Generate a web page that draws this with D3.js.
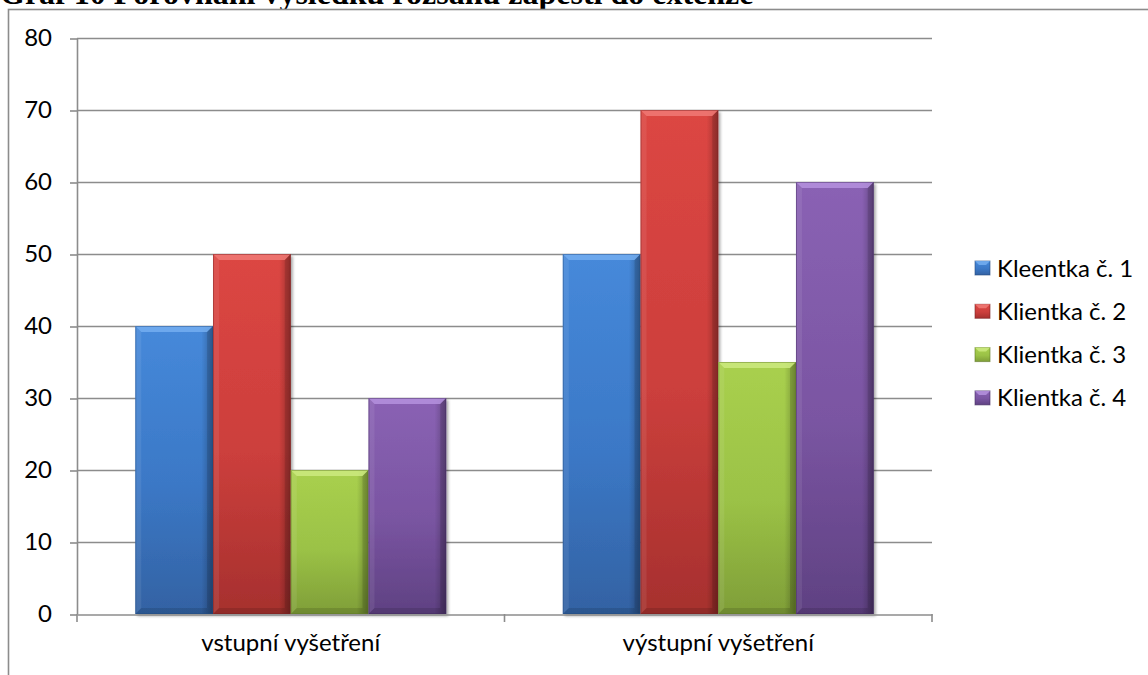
<!DOCTYPE html>
<html>
<head>
<meta charset="utf-8">
<script src="https://cdn.jsdelivr.net/npm/d3@7/dist/d3.min.js"></script>
<style>
  html, body { margin: 0; padding: 0; background: #fff; overflow: hidden; }
  svg { display: block; }
</style>
</head>
<body>
<svg id="chart" width="1148" height="675"></svg>
<script>
// Chart data
const title = "Graf 10 Porovnání výsledků rozsahu zápěstí do extenze";
const categories = ["vstupní vyšetření", "výstupní vyšetření"];
const seriesNames = ["Kleentka č. 1", "Klientka č. 2", "Klientka č. 3", "Klientka č. 4"];
const client1 = [40, 50];
const client2 = [50, 70];
const client3 = [20, 35];
const client4 = [30, 60];
const yTicks = [0, 10, 20, 30, 40, 50, 60, 70, 80];

const seriesValues = [client1, client2, client3, client4];
const palette = [
  { top: "#4689da", mid: "#3b78c6", bot: "#3362a3", light: "#74aef0", edge: "#244b80" },
  { top: "#dc4643", mid: "#cc3f3c", bot: "#a6302e", light: "#f07a76", edge: "#7a2221" },
  { top: "#a9d04e", mid: "#9bc246", bot: "#7f9e38", light: "#cdea80", edge: "#5f7a26" },
  { top: "#8a62b4", mid: "#7a55a2", bot: "#5f4182", light: "#b592de", edge: "#432d60" }
];

const svg = d3.select("#chart");
const font = "Lato, 'Open Sans', sans-serif";
const fontSize = 24;

// Title (runs off the top edge of the page)
svg.append("text")
  .attr("x", 0).attr("y", 4)
  .attr("font-family", "'Liberation Serif', 'Times New Roman', serif")
  .attr("font-weight", "bold")
  .attr("font-size", 32)
  .attr("fill", "#000")
  .text(title);

// Chart frame
svg.append("rect")
  .attr("x", 8.5).attr("y", 9.5)
  .attr("width", 1160).attr("height", 700)
  .attr("fill", "#fff").attr("stroke", "#8c8c8c").attr("stroke-width", 1.6);

const plot = { left: 77, right: 932, top: 38, bottom: 614 };

const x0 = d3.scaleBand().domain(categories).range([plot.left, plot.right]).paddingInner(0).paddingOuter(0);
const groupPad = 0.75 / 5.5; // gap width of 150% between groups
const x1 = d3.scaleBand().domain(seriesNames)
  .range([x0.bandwidth() * groupPad, x0.bandwidth() * (1 - groupPad)]);
const y = d3.scaleLinear().domain([0, 80]).range([plot.bottom, plot.top]);

// Gridlines
svg.append("g").selectAll("line").data(yTicks.filter(d => d > 0)).join("line")
  .attr("x1", plot.left).attr("x2", plot.right)
  .attr("y1", d => y(d) + 0.5).attr("y2", d => y(d) + 0.5)
  .attr("stroke", "#8c8c8c").attr("stroke-width", 1.6);

// Y axis
const yAxis = svg.append("g").attr("transform", `translate(${plot.left},0)`)
  .call(d3.axisLeft(y).tickValues(yTicks).tickSize(7).tickPadding(18).tickSizeOuter(0));
yAxis.select(".domain").attr("stroke", "#8c8c8c").attr("stroke-width", 1.6);
yAxis.selectAll(".tick line").attr("stroke", "#8c8c8c").attr("stroke-width", 1.6)
  .attr("transform", "translate(0,0.5)");
yAxis.selectAll(".tick text").attr("font-family", font).attr("font-size", fontSize).attr("fill", "#000");

// Defs: gradients and shadow
const defs = svg.append("defs");
palette.forEach((c, i) => {
  const g = defs.append("linearGradient").attr("id", "grad" + i)
    .attr("x1", 0).attr("y1", 0).attr("x2", 0).attr("y2", 1);
  g.append("stop").attr("offset", "0%").attr("stop-color", c.top);
  g.append("stop").attr("offset", "55%").attr("stop-color", c.mid);
  g.append("stop").attr("offset", "100%").attr("stop-color", c.bot);
  const h = defs.append("linearGradient").attr("id", "side" + i)
    .attr("x1", 0).attr("y1", 0).attr("x2", 1).attr("y2", 0);
  h.append("stop").attr("offset", "0%").attr("stop-color", "#000").attr("stop-opacity", 0.0);
  h.append("stop").attr("offset", "85%").attr("stop-color", "#000").attr("stop-opacity", 0.0);
  h.append("stop").attr("offset", "100%").attr("stop-color", "#000").attr("stop-opacity", 0.28);
});
const shadow = defs.append("filter").attr("id", "shadow")
  .attr("x", "-10%").attr("y", "-5%").attr("width", "125%").attr("height", "115%");
shadow.append("feGaussianBlur").attr("in", "SourceAlpha").attr("stdDeviation", 1.6);
shadow.append("feOffset").attr("dx", 1.5).attr("dy", 1.5).attr("result", "b");
shadow.append("feComponentTransfer").append("feFuncA").attr("type", "linear").attr("slope", 0.35);
const merge = shadow.append("feMerge");
merge.append("feMergeNode");
merge.append("feMergeNode").attr("in", "SourceGraphic");

// Bars
const bars = [];
categories.forEach((cat, ci) => {
  seriesNames.forEach((s, si) => {
    bars.push({ cat, s, si, v: seriesValues[si][ci] });
  });
});

const barG = svg.append("g").selectAll("g").data(bars).join("g")
  .attr("transform", d => `translate(${x0(d.cat) + x1(d.s)},0)`);

const bw = x1.bandwidth();
const bev = 6;
barG.append("rect")
  .attr("x", 0).attr("y", d => y(d.v))
  .attr("width", bw).attr("height", d => y(0) - y(d.v))
  .attr("fill", d => `url(#grad${d.si})`)
  .attr("filter", "url(#shadow)");
barG.append("rect")
  .attr("x", 0).attr("y", d => y(d.v))
  .attr("width", bw).attr("height", d => y(0) - y(d.v))
  .attr("fill", d => `url(#side${d.si})`);
// Top bevel
barG.append("path")
  .attr("d", d => {
    const t = y(d.v);
    return `M0,${t} L${bw},${t} L${bw - bev},${t + bev} L${bev},${t + bev} Z`;
  })
  .attr("fill", d => palette[d.si].light).attr("opacity", 0.85);
// Left bevel
barG.append("path")
  .attr("d", d => {
    const t = y(d.v), b = y(0);
    return `M0,${t} L${bev},${t + bev} L${bev},${b - bev} L0,${b} Z`;
  })
  .attr("fill", "#fff").attr("opacity", 0.08);
// Right bevel
barG.append("path")
  .attr("d", d => {
    const t = y(d.v), b = y(0);
    return `M${bw},${t} L${bw},${b} L${bw - bev},${b - bev} L${bw - bev},${t + bev} Z`;
  })
  .attr("fill", "#000").attr("opacity", 0.12);
// Bottom bevel
barG.append("path")
  .attr("d", d => {
    const b = y(0);
    return `M0,${b} L${bev},${b - bev} L${bw - bev},${b - bev} L${bw},${b} Z`;
  })
  .attr("fill", "#000").attr("opacity", 0.12);
// Edge outline
barG.append("rect")
  .attr("x", 0.5).attr("y", d => y(d.v) + 0.5)
  .attr("width", bw - 1).attr("height", d => y(0) - y(d.v) - 1)
  .attr("fill", "none").attr("stroke", d => palette[d.si].edge).attr("stroke-opacity", 0.45);

// X axis
const xAxis = svg.append("g").attr("transform", `translate(0,${plot.bottom})`)
  .call(d3.axisBottom(x0).tickSize(0).tickPadding(20).tickSizeOuter(0));
xAxis.select(".domain").attr("stroke", "#8c8c8c").attr("stroke-width", 1.6)
  .attr("transform", "translate(0,0.5)");
xAxis.selectAll(".tick text").attr("font-family", font).attr("font-size", fontSize).attr("fill", "#000");
// Category boundary ticks
const bounds = [plot.left, ...categories.map(c => x0(c) + x0.bandwidth())];
xAxis.append("g").selectAll("line").data(bounds).join("line")
  .attr("x1", d => d).attr("x2", d => d)
  .attr("y1", 0).attr("y2", 8)
  .attr("stroke", "#8c8c8c").attr("stroke-width", 1.6);

// Legend
const legend = svg.append("g").attr("transform", "translate(975,261)");
const li = legend.selectAll("g").data(seriesNames).join("g")
  .attr("transform", (d, i) => `translate(0,${i * 43.3})`);
li.append("rect").attr("width", 15).attr("height", 14)
  .attr("fill", (d, i) => `url(#grad${i})`)
  .attr("stroke", (d, i) => palette[i].edge).attr("stroke-opacity", 0.6);
li.append("path").attr("d", "M0,0 L15,0 L11,4 L4,4 Z")
  .attr("fill", (d, i) => palette[i].light).attr("opacity", 0.85);
li.append("text").attr("x", 22).attr("y", 15.5)
  .attr("font-family", font).attr("font-size", fontSize).attr("fill", "#000")
  .text(d => d);
</script>
</body>
</html>
